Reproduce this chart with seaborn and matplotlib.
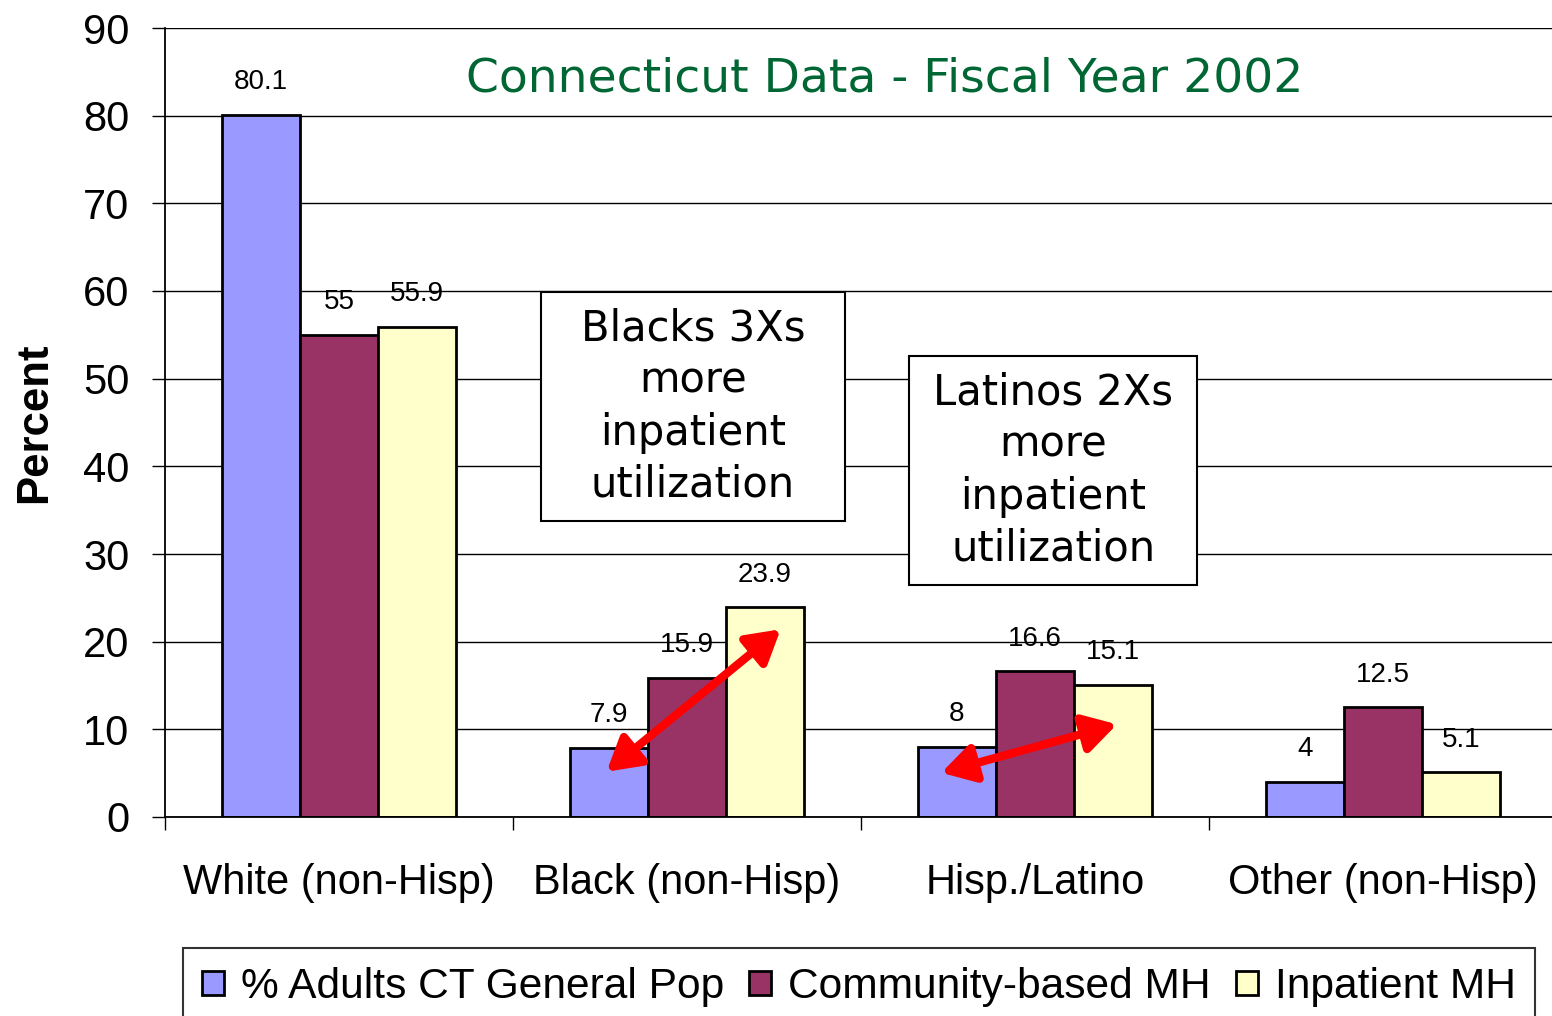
import pandas as pd
import numpy as np
import matplotlib
matplotlib.use('Agg')
import matplotlib.pyplot as plt
from matplotlib.patches import Rectangle
import seaborn as sns

# chart data
categories = ['White (non-Hisp)', 'Black (non-Hisp)', 'Hisp./Latino', 'Other (non-Hisp)']
series_names = ['% Adults CT General Pop', 'Community-based MH', 'Inpatient MH']
gen_pop = [80.1, 7.9, 8, 4]
community_mh = [55, 15.9, 16.6, 12.5]
inpatient_mh = [55.9, 23.9, 15.1, 5.1]
colors = ['#9999FF', '#993366', '#FFFFCC']

title_text = 'Connecticut Data - Fiscal Year 2002'
box_texts = ['Blacks 3Xs\nmore\ninpatient\nutilization',
             'Latinos 2Xs\nmore\ninpatient\nutilization']

# long form table for seaborn
df = pd.DataFrame({
    'group': categories * 3,
    'series': np.repeat(series_names, len(categories)),
    'value': gen_pop + community_mh + inpatient_mh,
})

sns.set_style('white')
plt.rcParams['font.family'] = ['Liberation Sans', 'DejaVu Sans']
plt.rcParams['text.color'] = 'black'
plt.rcParams['axes.labelcolor'] = 'black'
plt.rcParams['xtick.color'] = 'black'
plt.rcParams['ytick.color'] = 'black'

fig = plt.figure(figsize=(15.52, 10.16), dpi=100)
ax = fig.add_axes([165 / 1552, 199 / 1016, 1392 / 1552, 789 / 1016])

sns.barplot(data=df, x='group', y='value', hue='series', hue_order=series_names,
            order=categories, palette=colors, width=0.673, gap=0,
            edgecolor='black', linewidth=2, saturation=1, ax=ax)

ax.set_ylim(0, 90)
ax.set_xlim(-0.5, 3.5)
ax.set_yticks(range(0, 91, 10))
ax.yaxis.grid(True, color='black', linewidth=1)
ax.set_axisbelow(True)
for side in ['top', 'right']:
    ax.spines[side].set_visible(False)
for side in ['left', 'bottom']:
    ax.spines[side].set_color('black')
    ax.spines[side].set_linewidth(1.3)

ax.tick_params(axis='y', direction='out', length=9.5, width=1, color='black',
               labelsize=30, pad=16, left=True, labelcolor='black')
ax.tick_params(axis='x', which='major', length=0, labelsize=30, pad=33, labelcolor='black')
ax.set_xticks([-0.5, 0.5, 1.5, 2.5], minor=True)
ax.tick_params(axis='x', which='minor', direction='out', length=9.5, width=1,
               color='black', bottom=True)
ax.set_xlabel('')
ax.set_ylabel('Percent', fontsize=31.5, fontweight='bold', labelpad=20, color='black')

# value labels
for cont in ax.containers:
    ax.bar_label(cont, fmt='%g', padding=14, fontsize=20, color='black')

# title inside the plot
ax.text(0.517, 0.935, title_text, transform=ax.transAxes, ha='center', va='center',
        fontsize=34, color='#006633', family='DejaVu Sans')

# annotation boxes
box_spans = [((0.580, 1.454), (33.75, 59.86)), ((1.638, 2.466), (26.45, 52.57))]
for txt, ((x0, x1), (y0, y1)) in zip(box_texts, box_spans):
    ax.add_patch(Rectangle((x0, y0), x1 - x0, y1 - y0, facecolor='white',
                           edgecolor='black', linewidth=1.5, zorder=4))
    ax.text((x0 + x1) / 2, (y0 + y1) / 2, txt, ha='center', va='center',
            fontsize=30, family='DejaVu Sans', linespacing=1.3, zorder=5,
            color='black')

# red double arrows: (category, start bar x/y fraction, end bar x/y fraction)
arrows = [(1, (0.47, 0.654), (0.70, 0.896)), (2, (0.30, 0.63), (0.55, 0.70))]
for i, (sx, sy), (ex, ey) in arrows:
    b0 = ax.containers[0][i]
    b2 = ax.containers[2][i]
    start = (b0.get_x() + b0.get_width() * sx, b0.get_height() * sy)
    end = (b2.get_x() + b2.get_width() * ex, b2.get_height() * ey)
    ax.annotate('', xy=end, xytext=start,
                arrowprops=dict(arrowstyle='<|-|>,head_length=0.65,head_width=0.38',
                                color='red', lw=6, mutation_scale=30,
                                shrinkA=0, shrinkB=0), zorder=6)

handles, labels = ax.get_legend_handles_labels()
ax.legend_.remove()
leg = fig.legend(handles, labels, loc='upper center', bbox_to_anchor=(0.5535, 0.0669),
                 ncol=3, fontsize=30.6, frameon=True, fancybox=False,
                 handlelength=0.52, handleheight=0.52, handletextpad=0.4,
                 columnspacing=0.58, borderaxespad=0, borderpad=0.45)
leg.get_frame().set_edgecolor('black')
leg.get_frame().set_linewidth(1.5)
for t in leg.get_texts():
    t.set_color('black')

fig.savefig('out.png', dpi=100)
plt.close()
